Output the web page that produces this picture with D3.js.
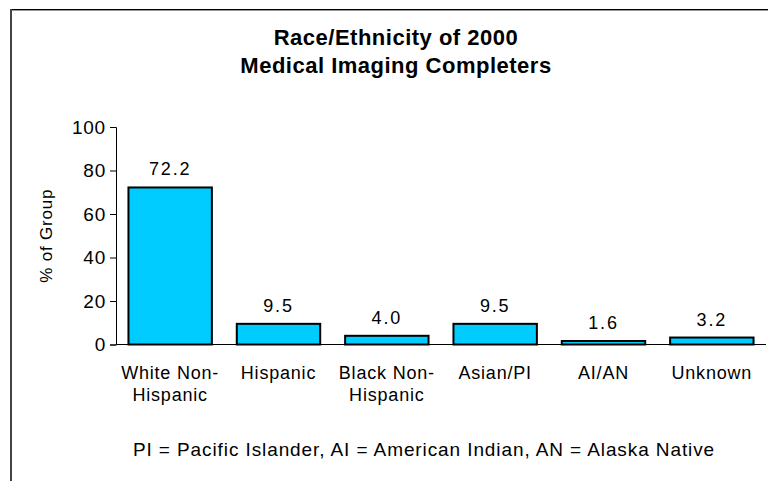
<!DOCTYPE html>
<html>
<head>
<meta charset="utf-8">
<script src="https://cdn.jsdelivr.net/npm/d3@7"></script>
<style>
  body { margin: 0; background: #fff; }
  svg text { font-family: Arial, "Liberation Sans", sans-serif; fill: #000; }
</style>
</head>
<body>
<svg id="chart"></svg>
<script>
// data
const categories = ['White Non-Hispanic', 'Hispanic', 'Black Non-Hispanic', 'Asian/PI', 'AI/AN', 'Unknown'];
const categoryLines = [['White Non-', 'Hispanic'], ['Hispanic'], ['Black Non-', 'Hispanic'], ['Asian/PI'], ['AI/AN'], ['Unknown']];
const values = [72.2, 9.5, 4.0, 9.5, 1.6, 3.2];
const yTicks = [0, 20, 40, 60, 80, 100];
const titleLines = ['Race/Ethnicity of 2000', 'Medical Imaging Completers'];
const yLabel = '% of Group';
const footnote = 'PI = Pacific Islander, AI = American Indian, AN = Alaska Native';

const width = 768;
const height = 481;
const margin = { top: 127, right: 2, bottom: 136.5, left: 116 };

const svg = d3.select('#chart')
    .attr('width', width)
    .attr('height', height);

// frame (only top and left edges are in view)
svg.append('line')
    .attr('x1', 10).attr('x2', width).attr('y1', 10.5).attr('y2', 10.5)
    .attr('stroke', '#999').attr('stroke-width', 1);
svg.append('line')
    .attr('x1', 10).attr('x2', width).attr('y1', 9.5).attr('y2', 9.5)
    .attr('stroke', '#000').attr('stroke-width', 1.2);
svg.append('line')
    .attr('x1', 11).attr('x2', 11).attr('y1', 9).attr('y2', height)
    .attr('stroke', '#444').attr('stroke-width', 2);

// title
svg.append('text')
    .attr('text-anchor', 'middle')
    .style('font-size', '22px')
    .style('font-weight', 'bold')
    .style('letter-spacing', '0.5px')
    .selectAll('tspan')
    .data(titleLines)
    .join('tspan')
    .attr('x', 396)
    .attr('y', (d, i) => 45 + i * 28)
    .text(d => d);

const x = d3.scaleBand()
    .domain(categories)
    .range([margin.left, width - margin.right])
    .paddingInner(0.23)
    .paddingOuter(0.115);

const y = d3.scaleLinear()
    .domain([0, 100])
    .range([height - margin.bottom, margin.top]);

// y axis
const yAxis = d3.axisLeft(y).tickValues(yTicks).tickSize(6).tickPadding(4);
const gy = svg.append('g')
    .attr('transform', `translate(${margin.left},0)`)
    .call(yAxis);
gy.select('.domain').attr('stroke', '#000');
gy.selectAll('.tick line').attr('stroke', '#000');
gy.selectAll('.tick text')
    .style('font-size', '19px')
    .style('letter-spacing', '0.8px')
    .attr('fill', '#000');

// y label
svg.append('text')
    .attr('transform', `translate(52,${(y(0) + y(100)) / 2}) rotate(-90)`)
    .attr('text-anchor', 'middle')
    .style('font-size', '17px')
    .style('letter-spacing', '0.8px')
    .text(yLabel);

// bars
svg.append('g')
    .selectAll('rect')
    .data(values)
    .join('rect')
    .attr('x', (d, i) => x(categories[i]))
    .attr('y', d => y(d))
    .attr('width', x.bandwidth())
    .attr('height', d => y(0) - y(d))
    .attr('fill', '#00CCFF')
    .attr('stroke', '#000')
    .attr('stroke-width', 2);

// value labels
svg.append('g')
    .selectAll('text')
    .data(values)
    .join('text')
    .attr('x', (d, i) => x(categories[i]) + x.bandwidth() / 2)
    .attr('y', d => y(d) - 12)
    .attr('text-anchor', 'middle')
    .style('font-size', '18px')
    .style('letter-spacing', '1.8px')
    .text(d => d.toFixed(1));

// x axis line
svg.append('line')
    .attr('x1', margin.left).attr('x2', width - margin.right)
    .attr('y1', y(0)).attr('y2', y(0))
    .attr('stroke', '#000');

// category labels
const catText = svg.append('g')
    .selectAll('text')
    .data(categories)
    .join('text')
    .attr('text-anchor', 'middle')
    .style('font-size', '18px')
    .style('letter-spacing', '0.8px');
catText.selectAll('tspan')
    .data((d, i) => categoryLines[i].map(t => ({ t, c: d })))
    .join('tspan')
    .attr('x', d => x(d.c) + x.bandwidth() / 2)
    .attr('y', (d, j) => 379 + j * 22)
    .text(d => d.t);

// footnote
svg.append('text')
    .attr('x', 424)
    .attr('y', 456)
    .attr('text-anchor', 'middle')
    .style('font-size', '19px')
    .style('letter-spacing', '0.9px')
    .text(footnote);
</script>
</body>
</html>
